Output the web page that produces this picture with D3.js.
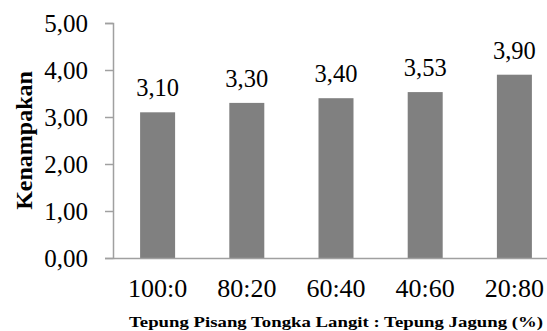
<!DOCTYPE html>
<html>
<head>
<meta charset="utf-8">
<script src="https://cdn.jsdelivr.net/npm/d3@7"></script>
<style>
  body { margin: 0; background: #fff; }
  svg { display: block; font-family: "Liberation Serif", "Times New Roman", serif; }
</style>
</head>
<body>
<script>
const categories = ["100:0", "80:20", "60:40", "40:60", "20:80"];
const values = [3.10, 3.30, 3.40, 3.53, 3.90];
const yTicks = [0, 1, 2, 3, 4, 5];

const w = 547;
const h = 331;
const plotLeft = 113;
const plotTop = 23;
const plotBottom = 258;

const fmt = d => d.toFixed(2).replace(".", ",");

const svg = d3.select("body")
  .append("svg")
  .attr("width", w)
  .attr("height", h);

const xScale = d3.scaleBand()
  .domain(categories)
  .range([plotLeft, plotLeft + 5 * 89.2]);

const yScale = d3.scaleLinear()
  .domain([0, 5])
  .range([plotBottom, plotTop]);

const barW = 35;

svg.selectAll("rect")
  .data(values)
  .enter()
  .append("rect")
  .attr("x", (d, i) => xScale(categories[i]) + xScale.bandwidth() / 2 - barW / 2)
  .attr("y", d => yScale(d))
  .attr("width", barW)
  .attr("height", d => plotBottom - yScale(d))
  .attr("fill", "#808080");

// value labels
svg.selectAll(".val")
  .data(values)
  .enter()
  .append("text")
  .attr("class", "val")
  .attr("x", (d, i) => xScale(categories[i]) + xScale.bandwidth() / 2)
  .attr("y", d => yScale(d) - 16)
  .attr("text-anchor", "middle")
  .attr("font-size", 24.5)
  .text(fmt);

// y axis
const yAxis = d3.axisLeft(yScale)
  .tickValues(yTicks)
  .tickSize(8)
  .tickPadding(17)
  .tickFormat(fmt);

const gy = svg.append("g")
  .attr("transform", "translate(" + plotLeft + ",0)")
  .call(yAxis);
gy.select(".domain").attr("stroke", "#a0a0a0").attr("stroke-width", 1.5);
gy.selectAll(".tick line").attr("stroke", "#a0a0a0").attr("stroke-width", 1.5);
gy.selectAll(".tick text")
  .attr("font-size", 25)
  .attr("font-family", "Liberation Serif, serif")
  .attr("fill", "#000");

// x axis
const xAxis = d3.axisBottom(xScale)
  .tickSize(0)
  .tickPadding(21);

const gx = svg.append("g")
  .attr("transform", "translate(0," + plotBottom + ")")
  .call(xAxis);
gx.select(".domain").attr("stroke", "#a0a0a0").attr("stroke-width", 1.5);
gx.selectAll(".tick text")
  .attr("font-size", 26)
  .attr("font-family", "Liberation Serif, serif")
  .attr("fill", "#000");

// titles
svg.append("text")
  .attr("transform", "translate(32," + ((plotTop + plotBottom) / 2) + ") rotate(-90)")
  .attr("text-anchor", "middle")
  .attr("font-weight", "bold")
  .attr("font-size", 24)
  .text("Kenampakan");

svg.append("text")
  .attr("x", 336)
  .attr("y", 327)
  .attr("text-anchor", "middle")
  .attr("font-weight", "bold")
  .attr("font-size", 15)
  .attr("textLength", 414)
  .attr("lengthAdjust", "spacingAndGlyphs")
  .text("Tepung Pisang Tongka Langit : Tepung Jagung (%)");
</script>
</body>
</html>
